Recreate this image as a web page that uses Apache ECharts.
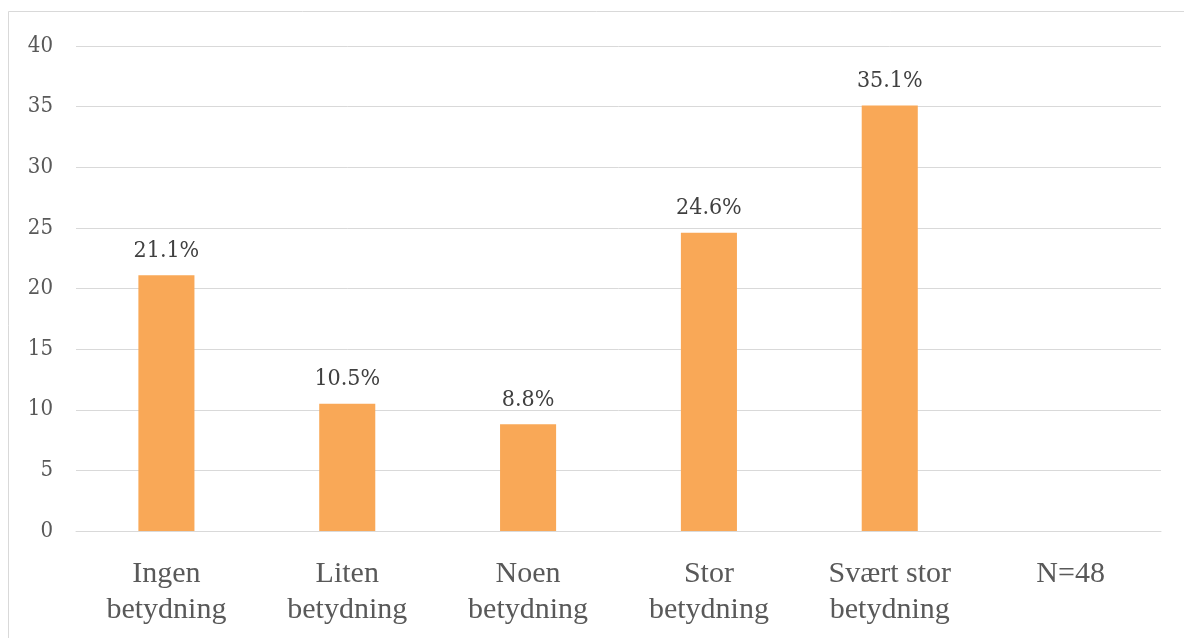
<!DOCTYPE html>
<html>
<head>
<meta charset="utf-8">
<title>Betydning</title>
<script src="https://cdn.jsdelivr.net/npm/echarts@6/dist/echarts.min.js"></script>
<style>
  html, body { margin: 0; padding: 0; background: #ffffff; }
  #chart { width: 1184px; height: 638px; }
</style>
</head>
<body>
<div id="chart"></div>
<script>
// Answer categories (two-line labels) and their shares in percent
const categories = ['Ingen\nbetydning', 'Liten\nbetydning', 'Noen\nbetydning', 'Stor\nbetydning', 'Svært stor\nbetydning', 'N=48'];
const shares = [21.1, 10.5, 8.8, 24.6, 35.1, null];
const yTicks = { min: 0, max: 40, interval: 5 };

const chart = echarts.init(document.getElementById('chart'), null, { renderer: 'canvas' });

chart.setOption({
  animation: false,
  backgroundColor: '#ffffff',
  graphic: [{
    type: 'rect',
    shape: { x: 8.5, y: 11.5, width: 1300, height: 800 },
    style: { fill: 'none', stroke: '#D9D9D9', lineWidth: 1 },
    silent: true
  }],
  grid: { left: 76, right: 23, top: 46, bottom: 638 - 531 },
  xAxis: {
    type: 'category',
    data: categories,
    axisLine: { show: true, lineStyle: { color: '#D9D9D9', width: 1 } },
    axisTick: { show: false },
    axisLabel: {
      interval: 0,
      margin: 25,
      color: '#595959',
      fontFamily: '"Liberation Serif", "Times New Roman", serif',
      fontSize: 30,
      lineHeight: 36
    }
  },
  yAxis: {
    type: 'value',
    min: yTicks.min,
    max: yTicks.max,
    interval: yTicks.interval,
    axisLine: { show: false },
    axisTick: { show: false },
    splitLine: { lineStyle: { color: '#D9D9D9', width: 1 } },
    axisLabel: {
      margin: 23,
      color: '#595959',
      fontFamily: '"DejaVu Serif Condensed", "DejaVu Serif", serif',
      fontSize: 22
    }
  },
  series: [{
    type: 'bar',
    data: shares,
    barWidth: '31%',
    itemStyle: { color: '#F9A857' },
    label: {
      show: true,
      position: 'top',
      distance: 13,
      color: '#404040',
      fontFamily: '"DejaVu Serif Condensed", "DejaVu Serif", serif',
      fontSize: 23,
      formatter: p => (p.value == null ? '' : p.value.toFixed(1) + '%')
    }
  }]
});
</script>
</body>
</html>
